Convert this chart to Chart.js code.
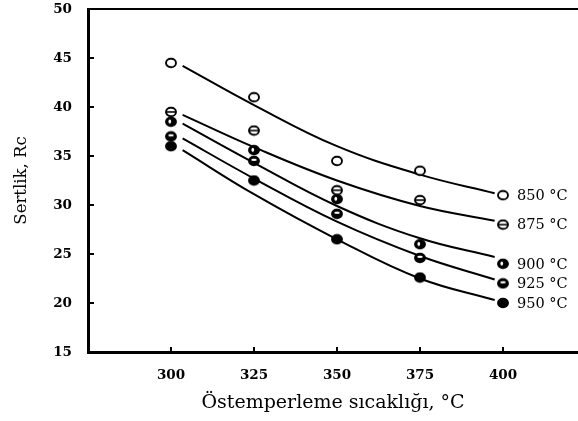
<!DOCTYPE html>
<html>
<head>
<meta charset="utf-8">
<script src="https://cdn.jsdelivr.net/npm/chart.js@4/dist/chart.umd.min.js"></script>
<style>
  html, body { margin: 0; padding: 0; background: #fff; }
  #c { display: block; }
</style>
</head>
<body>
<canvas id="c" width="578" height="421"></canvas>
<script>
// ---- data ----
const temps = [300, 325, 350, 375, 400];
const seriesNames = ['850 °C', '875 °C', '900 °C', '925 °C', '950 °C'];
const hard850 = [44.5, 41.0, 34.5, 33.5, 31.0];
const hard875 = [39.5, 37.6, 31.5, 30.5, 28.0];
const hard900 = [38.5, 35.6, 30.6, 26.0, 24.0];
const hard925 = [37.0, 34.5, 29.1, 24.6, 22.0];
const hard950 = [36.0, 32.5, 26.5, 22.6, 20.0];
// fitted curves
const curveX = [303.5, 325, 350, 375, 397.5];
const fit850 = [44.2, 40.2, 36.0, 33.1, 31.2];
const fit875 = [39.2, 35.9, 32.5, 29.9, 28.4];
const fit900 = [38.3, 34.3, 29.9, 26.6, 24.7];
const fit925 = [36.8, 32.7, 28.3, 24.8, 22.4];
const fit950 = [35.6, 31.1, 26.5, 22.5, 20.3];
const xTicks = [300, 325, 350, 375, 400];
const yTicks = [15, 20, 25, 30, 35, 40, 45, 50];
const xTitle = 'Östemperleme sıcaklığı, °C';
const yTitle = 'Sertlik, Rc';

const FONT = 'DejaVu Serif';

function makeMarker(kind) {
  const cv = document.createElement('canvas');
  cv.width = 14; cv.height = 12;
  const g = cv.getContext('2d');
  const cx = 7, cy = 6, rx = 5.0, ry = 4.3;
  g.beginPath();
  g.ellipse(cx, cy, rx, ry, 0, 0, Math.PI * 2);
  g.fillStyle = (kind === 'open' || kind === 'bar') ? '#fff' : '#000';
  g.fill();
  g.lineWidth = 1.9;
  g.strokeStyle = '#000';
  g.stroke();
  if (kind === 'bar') {
    g.beginPath();
    g.moveTo(cx - rx, cy); g.lineTo(cx + rx, cy);
    g.lineWidth = 1.6; g.stroke();
  } else if (kind === 'spot') {
    g.beginPath();
    g.ellipse(cx - 1.2, cy - 0.3, 1.4, 2.0, 0, 0, Math.PI * 2);
    g.fillStyle = '#fff'; g.fill();
  } else if (kind === 'stripe') {
    g.beginPath();
    g.ellipse(cx, cy - 1.1, 2.8, 1.1, 0, 0, Math.PI * 2);
    g.fillStyle = '#fff'; g.fill();
  }
  return cv;
}

const markerKinds = ['open', 'bar', 'spot', 'stripe', 'solid'];
const hardSets = [hard850, hard875, hard900, hard925, hard950];
const fitSets = [fit850, fit875, fit900, fit925, fit950];

const datasets = [];
fitSets.forEach((arr, i) => {
  datasets.push({
    label: seriesNames[i] + ' fit',
    data: curveX.map((x, j) => ({ x: x, y: arr[j] })),
    showLine: true,
    borderColor: '#000',
    borderWidth: 2,
    pointRadius: 0,
    tension: 0.4,
    fill: false,
    order: 2
  });
});
hardSets.forEach((arr, i) => {
  datasets.push({
    label: seriesNames[i],
    data: temps.map((x, j) => ({ x: x, y: arr[j] })),
    showLine: false,
    pointStyle: makeMarker(markerKinds[i]),
    pointRadius: 6,
    order: 1
  });
});

const decor = {
  id: 'decor',
  afterDraw(chart) {
    const { ctx, chartArea, scales } = chart;
    const xs = scales.x, ys = scales.y;
    ctx.save();
    ctx.strokeStyle = '#000';
    // top frame line
    ctx.lineWidth = 2.2;
    ctx.beginPath();
    ctx.moveTo(chartArea.left - 1, chartArea.top);
    ctx.lineTo(chart.width, chartArea.top);
    ctx.stroke();
    // inward ticks on y axis
    ctx.lineWidth = 2;
    yTicks.forEach(v => {
      if (v === yTicks[0] || v === yTicks[yTicks.length - 1]) return;
      const py = ys.getPixelForValue(v);
      ctx.beginPath();
      ctx.moveTo(chartArea.left, py);
      ctx.lineTo(chartArea.left + 6, py);
      ctx.stroke();
    });
    // inward ticks on x axis
    xTicks.forEach(v => {
      const px = xs.getPixelForValue(v);
      ctx.beginPath();
      ctx.moveTo(px, chartArea.bottom);
      ctx.lineTo(px, chartArea.bottom - 5);
      ctx.stroke();
    });
    // series labels at the right end
    ctx.fillStyle = '#000';
    ctx.font = '14.5px "' + FONT + '"';
    ctx.textBaseline = 'middle';
    ctx.textAlign = 'left';
    hardSets.forEach((arr, i) => {
      const px = xs.getPixelForValue(temps[temps.length - 1]) + 14;
      const py = ys.getPixelForValue(arr[arr.length - 1]) + 1;
      ctx.fillText(seriesNames[i], px, py);
    });
    ctx.restore();
  }
};

new Chart(document.getElementById('c'), {
  type: 'scatter',
  data: { datasets: datasets },
  options: {
    responsive: false,
    animation: false,
    layout: { autoPadding: false, padding: { top: 9, left: 0, right: 0, bottom: 0 } },
    plugins: {
      legend: { display: false },
      tooltip: { enabled: false }
    },
    scales: {
      x: {
        type: 'linear',
        position: 'bottom',
        min: 275,
        max: 422.6,
        afterBuildTicks: (s) => { s.ticks = xTicks.map(v => ({ value: v })); },
        afterFit: (s) => { s.height = 69; s.paddingRight = 0; s.paddingLeft = 0; },
        grid: { display: false, drawTicks: false },
        border: { display: true, color: '#000', width: 3 },
        ticks: {
          color: '#000',
          padding: 15,
          font: { family: FONT, size: 13.5, weight: 'bold' }
        },
        title: {
          display: true,
          text: xTitle,
          color: '#000',
          font: { family: FONT, size: 19 },
          padding: { top: 0, bottom: 7 }
        }
      },
      y: {
        type: 'linear',
        min: 15,
        max: 50,
        afterBuildTicks: (s) => { s.ticks = yTicks.map(v => ({ value: v })); },
        afterFit: (s) => { s.width = 88; s.paddingTop = 0; s.paddingBottom = 0; },
        grid: { display: false, drawTicks: false },
        border: { display: true, color: '#000', width: 3 },
        ticks: {
          color: '#000',
          padding: 16,
          font: { family: FONT, size: 13.5, weight: 'bold' }
        },
        title: {
          display: true,
          text: yTitle,
          color: '#000',
          font: { family: FONT, size: 16.5 },
          padding: { top: 12, bottom: 0 }
        }
      }
    }
  },
  plugins: [decor]
});
</script>
</body>
</html>
